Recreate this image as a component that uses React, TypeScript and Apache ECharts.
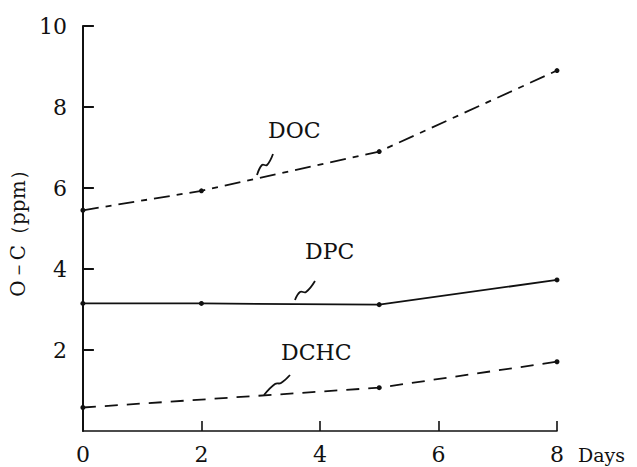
import React, { useEffect, useRef } from "react";
import * as echarts from "echarts";

const days = [0, 2, 5, 8];
const docValues = [5.45, 5.93, 6.9, 8.9];
const dpcValues = [3.15, 3.15, 3.12, 3.73];
const dchcDays = [0, 5, 8];
const dchcValues = [0.58, 1.07, 1.71];
const xTicks = [0, 2, 4, 6, 8];
const yTicks = [2, 4, 6, 8, 10];

const FONT = "DejaVu Serif";
const INK = "#111";

export default function App() {
  const ref = useRef<HTMLDivElement>(null);
  useEffect(() => {
    if (!ref.current) return;
    const chart = echarts.init(ref.current, null, { renderer: "svg" });
    const pts = (xs: number[], ys: number[]) => xs.map((x, i) => [x, ys[i]]);
    const leader = (p: number[][]) => ({
      type: "polyline",
      shape: { points: p, smooth: 0.4 },
      style: { stroke: INK, lineWidth: 1.8, fill: null },
      silent: true,
    });
    const label = (text: string, x: number, y: number, size: number) => ({
      type: "text",
      x,
      y,
      style: { text, fontFamily: FONT, fontSize: size, fill: INK, verticalAlign: "middle" },
    });
    chart.setOption({
      animation: false,
      backgroundColor: "#fff",
      textStyle: { fontFamily: FONT },
      grid: { left: 77, top: 26, right: 80, bottom: 36 },
      xAxis: {
        type: "value",
        min: 0,
        max: 8,
        interval: 2,
        axisLine: { show: true, lineStyle: { color: INK, width: 1.6 } },
        axisTick: { show: true, inside: true, length: 10, lineStyle: { color: INK, width: 1.6 } },
        splitLine: { show: false },
        axisLabel: {
          color: INK,
          fontFamily: FONT,
          fontSize: 22,
          margin: 12,
          formatter: (v: number) => (xTicks.includes(v) ? String(v) : ""),
        },
      },
      yAxis: {
        type: "value",
        min: 0,
        max: 10,
        interval: 2,
        name: "O－C（ppm）",
        nameLocation: "middle",
        nameGap: 42,
        nameTextStyle: { color: INK, fontFamily: FONT, fontSize: 20 },
        axisLine: { show: true, lineStyle: { color: INK, width: 2 } },
        axisTick: { show: true, inside: true, length: 11, lineStyle: { color: INK, width: 2 } },
        splitLine: { show: false },
        axisLabel: {
          color: INK,
          fontFamily: FONT,
          fontSize: 22,
          margin: 16,
          showMinLabel: false,
          formatter: (v: number) => (yTicks.includes(v) ? String(v) : ""),
        },
      },
      series: [
        {
          name: "DOC",
          type: "line",
          data: pts(days, docValues),
          symbol: "circle",
          symbolSize: 5,
          itemStyle: { color: INK },
          lineStyle: { color: INK, width: 1.8, type: [16, 7, 6, 7] },
        },
        {
          name: "DPC",
          type: "line",
          data: pts(days, dpcValues),
          symbol: "circle",
          symbolSize: 5,
          itemStyle: { color: INK },
          lineStyle: { color: INK, width: 1.8, type: "solid" },
        },
        {
          name: "DCHC",
          type: "line",
          data: pts(dchcDays, dchcValues),
          symbol: "circle",
          symbolSize: 5,
          itemStyle: { color: INK },
          lineStyle: { color: INK, width: 1.8, type: [13, 9] },
        },
      ],
      graphic: [
        label("DOC", 268, 130, 22),
        label("DPC", 305, 251, 22),
        label("DCHC", 281, 352, 22),
        label("Days", 578, 455, 19),
        leader([[273, 154], [267, 165], [262, 165], [257, 175]]),
        leader([[315, 281], [306, 292], [300, 292], [295, 300]]),
        leader([[290, 375], [281, 383], [275, 384], [264, 395]]),
      ],
    });
    return () => chart.dispose();
  }, []);
  return <div ref={ref} style={{ width: 637, height: 467, marginLeft: -8, marginTop: -8 }} />;
}
